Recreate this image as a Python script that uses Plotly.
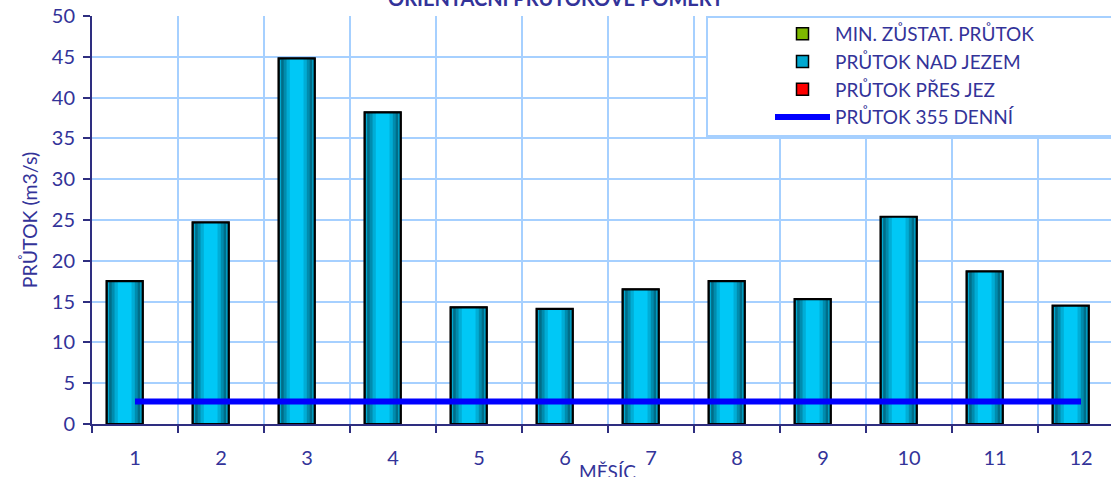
import plotly.graph_objects as go

months = list(range(1, 13))
month_labels = [str(m) for m in months]
flow_above_weir = [17.5, 24.7, 44.8, 38.2, 14.3, 14.1, 16.5, 17.5, 15.3, 25.4, 18.7, 14.5]
min_residual_flow = [0] * 12
flow_over_weir = [0] * 12
q355 = [2.75] * 12

TXT = "#333399"
GRID = "#a6d0ff"
AX = "#2e2e80"
FONT = "Lato"

W = 0.42          # bar width (category units)
SHIFT = -0.12     # bar centre shift from category centre
PW = 1019         # plot-area width in px

def px(X):        # page x -> paper x
    return (X - 92) / PW

def py(Y):        # page y -> paper y
    return (424 - Y) / 408

fig = go.Figure()

fig.add_trace(go.Bar(x=months, y=min_residual_flow, name="MIN. ZŮSTAT. PRŮTOK",
                     width=W, offset=SHIFT - W / 2,
                     marker=dict(color="#7db800", line=dict(color="black", width=1.5))))

# cylinder-like gradient for main series: nested overlaid bars
grad = [(1.00, "#004f66"), (0.86, "#006d88"), (0.72, "#008cae"), (0.56, "#00add6"), (0.38, "#00c8f6")]
for i, (f, c) in enumerate(grad):
    w = W * f
    fig.add_trace(go.Bar(x=months, y=flow_above_weir, name="PRŮTOK NAD JEZEM",
                         width=w, offset=SHIFT - w / 2,
                         showlegend=(i == 0),
                         marker=dict(color=c if i else "#00a8d0",
                                     line=dict(color="black", width=1.5 if i == 0 else 0))))
fig.add_trace(go.Bar(x=months, y=flow_above_weir, name="PRŮTOK NAD JEZEM", showlegend=False,
                     width=W, offset=SHIFT - W / 2,
                     marker=dict(color="rgba(0,0,0,0)", line=dict(color="black", width=2.2))))

fig.add_trace(go.Bar(x=months, y=flow_over_weir, name="PRŮTOK PŘES JEZ",
                     width=W, offset=SHIFT - W / 2,
                     marker=dict(color="#ff0000", line=dict(color="black", width=1.5))))

fig.add_trace(go.Scatter(x=months, y=q355, name="PRŮTOK 355 DENNÍ", mode="lines",
                         line=dict(color="#0000ff", width=6)))

fig.update_layout(
    width=1111, height=477,
    margin=dict(l=92, r=0, t=16, b=53),
    paper_bgcolor="white", plot_bgcolor="white",
    barmode="overlay",
    font=dict(family=FONT, color=TXT, size=20),
    showlegend=True,
    legend=dict(x=px(770), y=py(15), xanchor="left", yanchor="top",
                bgcolor="rgba(0,0,0,0)", borderwidth=0,
                font=dict(family=FONT, size=19, color=TXT),
                traceorder="normal", itemwidth=55, tracegroupgap=0),
    xaxis=dict(range=[0.5, 0.5 + PW / 86], tickmode="array", tickvals=months, ticktext=month_labels,
               ticks="", showgrid=False, showline=True, linecolor=AX, linewidth=2,
               zeroline=False, ticklabelstandoff=15,
               tickfont=dict(family=FONT, size=20, color=TXT),
               minor=dict(tickmode="array", tickvals=[m + 0.5 for m in [0] + months],
                          showgrid=True, gridcolor=GRID, gridwidth=2,
                          ticks="outside", ticklen=7, tickcolor=AX, tickwidth=2)),
    yaxis=dict(range=[0, 50], dtick=5, showgrid=True, gridcolor=GRID, gridwidth=2,
               showline=True, linecolor=AX, linewidth=2, ticks="outside", ticklen=7,
               tickcolor=AX, tickwidth=2, zeroline=False, ticklabelstandoff=4,
               ticklabeloverflow="allow",
               tickfont=dict(family=FONT, size=20, color=TXT),
               title=dict(text="PRŮTOK (m3/s)", font=dict(family=FONT, size=19.5, color=TXT), standoff=9)),
    shapes=[dict(type="rect", xref="paper", yref="paper", x0=px(707), x1=px(1125), y0=py(136), y1=py(17),
                 fillcolor="white", line=dict(color=GRID, width=2), layer="above")],
    annotations=[
        dict(text="<b>ORIENTAČNÍ PRŮTOKOVÉ POMĚRY</b>", xref="paper", yref="paper",
             x=px(556), y=py(-2), xanchor="center", yanchor="middle", showarrow=False,
             font=dict(family=FONT, size=20, color=TXT)),
        dict(text="MĚSÍC", xref="paper", yref="paper", x=px(607), y=py(471),
             xanchor="center", yanchor="middle", showarrow=False,
             font=dict(family=FONT, size=19, color=TXT)),
    ],
)

fig.write_html("out.html", config={"displayModeBar": False},
               post_script="document.body.style.margin='0px';")
